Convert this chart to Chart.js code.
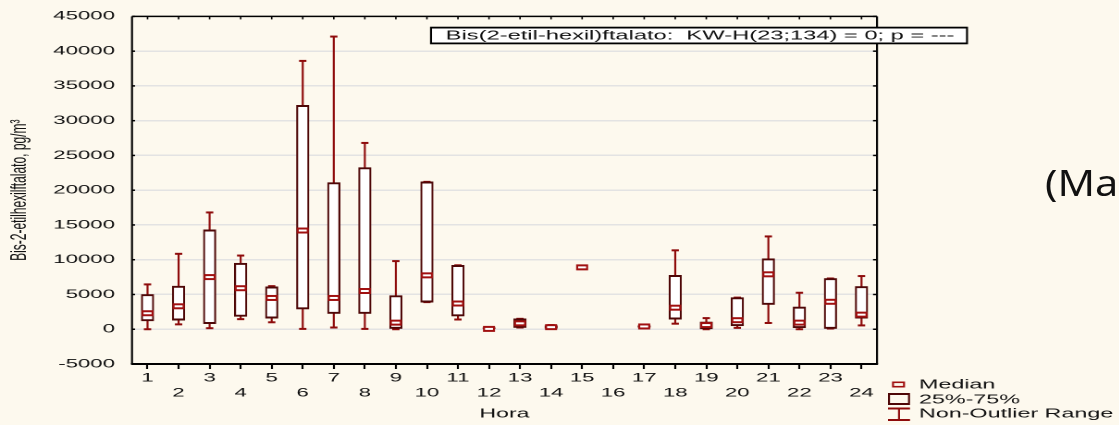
<!DOCTYPE html>
<html>
<head>
<meta charset="utf-8">
<script src="https://cdn.jsdelivr.net/npm/chart.js@4.4.1/dist/chart.umd.min.js"></script>
<style>
  html, body { margin: 0; padding: 0; background: #fdf9ee; width: 1119px; height: 425px; overflow: hidden; }
  /* the exported graph is stretched sideways, so draw narrow and scale it */
  #wrap { position: absolute; left: 0; top: 0; width: 605px; height: 425px; transform: scaleX(1.85); transform-origin: 0 0; }
  #side { position: absolute; left: 1045px; top: 163px; font-family: 'Noto Sans', sans-serif; font-size: 37px; line-height: 37px; color: #111; white-space: nowrap; transform: scaleX(1.12); transform-origin: 0 0; }
</style>
</head>
<body>
<div id="wrap"><canvas id="chart" width="605" height="425"></canvas></div>
<div id="side">(Ma</div>
<script>
  const SX = 1.85;

  // ---------- DATA ----------
  const hours = ['1', '2', '3', '4', '5', '6', '7', '8', '9', '10', '11', '12',
    '13', '14', '15', '16', '17', '18', '19', '20', '21', '22', '23', '24'];
  const whiskerLow = [0, 700, 150, 1450, 1000, 50, 250, 50, 0, 3900, 1400, 0,
    250, 150, 8900, null, 300, 800, 0, 200, 900, 0, 100, 550];
  const q1 = [1200, 1300, 800, 1850, 1600, 2900, 2250, 2250, 0, 3900, 1900, 0,
    250, 150, 8900, null, 300, 1450, 50, 500, 3550, 200, 100, 1600];
  const median = [2300, 3300, 7500, 5900, 4500, 14200, 4500, 5500, 950, 7750, 3700, 50,
    850, 300, 8900, null, 400, 3100, 600, 1300, 7900, 950, 3950, 2100];
  const q3 = [5000, 6200, 14300, 9500, 6100, 32200, 21100, 23250, 4850, 21200, 9200, 200,
    1500, 500, 8900, null, 500, 7750, 1050, 4550, 10150, 3200, 7300, 6150];
  const whiskerHigh = [6450, 10850, 16800, 10600, 6200, 38600, 42100, 26800, 9800, 21200, 9200, 200,
    1500, 600, 8900, null, 500, 11350, 1600, 4550, 13350, 5250, 7300, 7650];
  const yMin = -5000, yMax = 45000, yStep = 5000;

  const titleText = 'Bis(2-etil-hexil)ftalato:  KW-H(23;134) = 0; p = ---';
  const legendLabels = ['Median', '25%-75%', 'Non-Outlier Range'];

  // ---------- STYLE ----------
  const BOX = '#4e0707', WHISK = '#8e0b0b', MED = '#a01010', BG = '#fdf9ee';
  const FONT = "'Liberation Sans', Arial, sans-serif";
  const VL = 2 / SX;          // 2px wide vertical line once stretched
  const BOX_W = 12 / SX;

  function frameRect(ctx, x, y, w, h, color, vw, hw, fill) {
    ctx.fillStyle = color;
    ctx.fillRect(x, y, w, h);
    ctx.fillStyle = fill;
    ctx.fillRect(x + vw, y + hw, w - 2 * vw, h - 2 * hw);
  }

  const boxPlot = {
    id: 'boxPlot',
    beforeDatasetsDraw(chart) {
      const { ctx, scales: { x, y } } = chart;
      ctx.save();
      ctx.fillStyle = WHISK;
      const cw = 7.3 / SX;
      hours.forEach((h, i) => {
        if (median[i] == null) return;
        const cx = x.getPixelForValue(i);
        const top = y.getPixelForValue(whiskerHigh[i]);
        const bot = y.getPixelForValue(whiskerLow[i]);
        ctx.fillRect(cx - VL / 2, top, VL, bot - top);
        ctx.fillRect(cx - cw / 2, top - 1, cw, 2);
        ctx.fillRect(cx - cw / 2, bot - 1, cw, 2);
      });
      ctx.restore();
    },
    afterDatasetsDraw(chart) {
      const { ctx, scales: { x, y } } = chart;
      ctx.save();
      hours.forEach((h, i) => {
        if (median[i] == null) return;
        const cx = x.getPixelForValue(i);
        const cy = y.getPixelForValue(median[i]);
        frameRect(ctx, cx - BOX_W / 2, cy - 3, BOX_W, 6, MED, VL, 2, '#fff');
      });
      ctx.restore();
    },
    afterDraw(chart) {
      const { ctx, chartArea: a, scales: { x, y } } = chart;
      ctx.save();
      // plot frame
      ctx.fillStyle = '#000';
      ctx.fillRect(a.left - VL / 2, a.top, VL, a.bottom - a.top);
      ctx.fillRect(a.right - VL / 2, a.top, VL, a.bottom - a.top);
      ctx.fillRect(a.left, a.top - 0.75, a.right - a.left, 1.5);
      ctx.fillRect(a.left - VL / 2, a.bottom - 1, a.right - a.left + VL, 2);
      // inner ticks on top, left and right
      hours.forEach((h, i) => {
        const cx = x.getPixelForValue(i);
        ctx.fillRect(cx - 0.75 / SX, a.top, 1.5 / SX, 3);
      });
      for (let v = yMin; v <= yMax; v += yStep) {
        const py = y.getPixelForValue(v);
        ctx.fillRect(a.right - 4 / SX, py - 0.75, 4 / SX, 1.5);
        ctx.fillRect(a.left, py - 0.75, 3 / SX, 1.5);
      }
      // statistic box
      const x0 = 430 / SX, x1 = 968 / SX;
      frameRect(ctx, x0, 26.7, x1 - x0, 17.6, '#000', VL, 1.8, '#fff');
      ctx.fillStyle = '#111';
      ctx.font = '12.8px ' + FONT;
      ctx.textBaseline = 'middle';
      ctx.textAlign = 'left';
      ctx.fillText(titleText, 445.7 / SX, 35.8);
      // legend
      frameRect(ctx, 892 / SX, 381.5, 13 / SX, 6, MED, VL, 1.6, BG);
      frameRect(ctx, 888 / SX, 393, 22 / SX, 12, BOX, VL, 2, BG);
      ctx.fillStyle = WHISK;
      ctx.fillRect(899 / SX - VL / 2, 408, VL, 12.5);
      ctx.fillRect(888 / SX, 407.5, 22 / SX, 2);
      ctx.fillRect(888 / SX, 419, 22 / SX, 2);
      ctx.fillStyle = '#111';
      ctx.font = '12.6px ' + FONT;
      [385, 400, 414].forEach((ty, k) => ctx.fillText(legendLabels[k], 919 / SX, ty));
      ctx.restore();
    }
  };

  const boxes = hours.map((h, i) => (q1[i] == null ? null : [q1[i], q3[i]]));

  new Chart(document.getElementById('chart'), {
    type: 'bar',
    data: {
      labels: hours,
      datasets: [{
        data: boxes,
        backgroundColor: '#fff',
        borderColor: BOX,
        borderWidth: { left: VL, right: VL, top: 2, bottom: 2 },
        borderSkipped: false,
        barThickness: BOX_W
      }]
    },
    options: {
      responsive: false,
      devicePixelRatio: 2,
      animation: false,
      layout: { padding: { left: 0, top: 15, right: 605 - 877 / SX, bottom: 0 } },
      plugins: { legend: { display: false }, tooltip: { enabled: false } },
      scales: {
        x: {
          offset: true,
          grid: { offset: false, drawOnChartArea: false, drawTicks: true, tickLength: 5, tickColor: '#000', tickWidth: VL },
          border: { display: false },
          ticks: {
            autoSkip: false, maxRotation: 0, minRotation: 0, padding: 1.5, color: '#111',
            font: { family: FONT, size: 12, lineHeight: 1.25 },
            callback: (v, i) => (i % 2 === 0 ? hours[i] : ['', hours[i]])
          },
          title: { display: true, text: 'Hora', color: '#111', font: { family: FONT, size: 12.5 }, padding: { top: 0, bottom: 3.5 } },
          afterFit: (s) => { s.height = 61; }
        },
        y: {
          min: yMin,
          max: yMax,
          ticks: { stepSize: yStep, padding: 9.2, color: '#111', font: { family: FONT, size: 12 }, callback: (v) => String(v) },
          grid: { color: '#e3e3e3', lineWidth: 1.5, drawTicks: false },
          border: { display: false },
          title: { display: true, text: 'Bis-2-etilhexilftalato, pg/m³', color: '#111', font: { family: FONT, size: 12 }, padding: { top: 3.6, bottom: 0 } },
          afterFit: (s) => { s.width = 132 / SX; }
        }
      }
    },
    plugins: [boxPlot]
  });
</script>
</body>
</html>
